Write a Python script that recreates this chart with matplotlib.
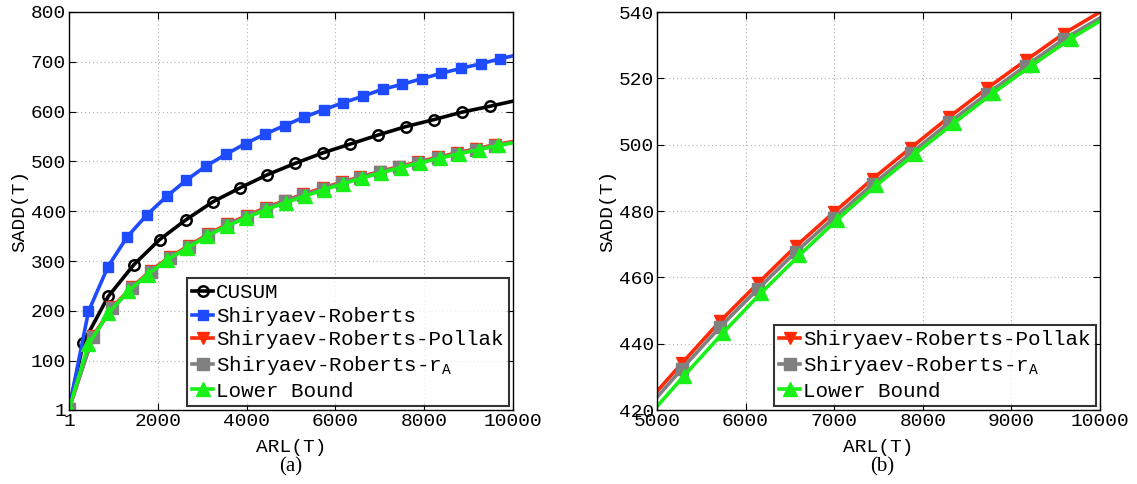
import matplotlib
matplotlib.use("Agg")
import matplotlib.pyplot as plt

# ---------------- data ----------------
cusum_x = [1, 322, 885, 1464, 2040, 2637, 3242, 3855, 4460, 5089, 5710, 6339,
           6960, 7589, 8218, 8855, 9492, 10000]
cusum_y = [3, 136, 229, 293, 343, 383, 419, 447, 473, 496, 517, 535,
           553, 570, 584, 599, 611, 621]

sr_x = [1, 440, 880, 1315, 1758, 2202, 2637, 3089, 3532, 3976, 4419, 4855,
        5298, 5742, 6177, 6621, 7065, 7508, 7944, 8387, 8831, 9274, 9702, 10000]
sr_y = [3, 199, 289, 349, 393, 430, 462, 491, 514, 536, 555, 572,
        589, 604, 618, 631, 645, 655, 666, 677, 687, 696, 706, 712]

srp_x = [1, 540, 975, 1410, 1845, 2270, 2700, 3135, 3570, 4000, 4430, 4860,
         5281, 5710, 6143, 6564, 7001, 7434, 7867, 8300, 8729, 9162, 9591, 10000]
srp_y = [3, 150, 207, 247, 281, 308, 331, 354, 374, 391, 407, 421.4,
         434.1, 446.7, 458.3, 469.3, 479.7, 489.7, 499.1, 508.4, 517.1, 525.4, 533.5, 540.0]

srr_x = [1, 540, 975, 1410, 1845, 2270, 2700, 3135, 3570, 4000, 4430, 4860,
         5281, 5710, 6143, 6564, 7001, 7434, 7867, 8300, 8729, 9162, 9591, 10000]
srr_y = [3, 148, 205, 245, 279, 306, 329, 352, 372, 389, 405, 419.6,
         432.4, 445.0, 456.6, 467.6, 478.0, 488.0, 497.4, 506.7, 515.4, 523.7, 531.8, 538.2]

lb_x = [1, 440, 887, 1330, 1774, 2218, 2661, 3105, 3548, 3992, 4435, 4879,
        5309, 5742, 6175, 6604, 7033, 7474, 7915, 8356, 8789, 9230, 9671, 10000]
lb_y = [3, 133, 195, 239, 273, 303, 326, 350, 370, 387, 403, 417.4,
        430.4, 443.2, 455.3, 466.6, 477.4, 487.7, 497.3, 506.6, 515.5, 523.9, 532.0, 537.3]

labels = ["CUSUM", "Shiryaev-Roberts", "Shiryaev-Roberts-Pollak",
          r"Shiryaev-Roberts-r$_{\mathregular{A}}$", "Lower Bound"]

left_xticks = [1, 2000, 4000, 6000, 8000, 10000]
left_yticks = [1, 100, 200, 300, 400, 500, 600, 700, 800]
right_xticks = [5000, 6000, 7000, 8000, 9000, 10000]
right_yticks = [420, 440, 460, 480, 500, 520, 540]

# ---------------- style ----------------
MONO = "Liberation Mono"
SERIF = "Liberation Serif"
plt.rcParams["font.family"] = MONO
plt.rcParams["mathtext.fontset"] = "custom"
plt.rcParams["mathtext.rm"] = MONO

C_BLACK = "#000000"
C_BLUE = "#1f4bff"
C_RED = "#ff2a0a"
C_GRAY = "#808080"
C_GREEN = "#18f018"

fig = plt.figure(figsize=(11.37, 4.84), dpi=100)
ax1 = fig.add_axes([69 / 1137, 74 / 484, 444 / 1137, 398 / 484])
ax2 = fig.add_axes([657 / 1137, 74 / 484, 443 / 1137, 398 / 484])

lw = 2.6
me = slice(0, -1)


def draw(ax, series):
    for (x, y, color, marker, ms, mfc, mew, lab) in series:
        ax.plot(x, y, color=color, lw=lw, marker=marker, ms=ms, mfc=mfc,
                mec=color, mew=mew, markevery=me, label=lab)


series_all = [
    (cusum_x, cusum_y, C_BLACK, "o", 7.5, "none", 1.8, labels[0]),
    (sr_x, sr_y, C_BLUE, "s", 7, C_BLUE, 1.0, labels[1]),
    (srp_x, srp_y, C_RED, "v", 9, C_RED, 1.0, labels[2]),
    (srr_x, srr_y, C_GRAY, "s", 8, C_GRAY, 1.0, labels[3]),
    (lb_x, lb_y, C_GREEN, "^", 10, C_GREEN, 1.0, labels[4]),
]
draw(ax1, series_all)
draw(ax2, series_all[2:])

ax1.set_xlim(1, 10000)
ax1.set_ylim(1, 800)
ax1.set_xticks(left_xticks)
ax1.set_yticks(left_yticks)
ax2.set_xlim(5000, 10000)
ax2.set_ylim(420, 540)
ax2.set_xticks(right_xticks)
ax2.set_yticks(right_yticks)

for ax in (ax1, ax2):
    ax.grid(True, linestyle=(0, (1, 2.5)), color="#b0b0b0", lw=0.8)
    ax.tick_params(direction="in", top=True, right=True, length=5, width=0.8,
                   labelsize=14, pad=2)
    for sp in ax.spines.values():
        sp.set_linewidth(1.0)
    ax.set_xlabel("ARL(T)", fontsize=14, labelpad=7)
    ax.set_ylabel("SADD(T)", fontsize=14, labelpad=2)

leg_kw = dict(prop={"family": MONO, "size": 15}, frameon=True, fancybox=False,
              edgecolor="black", handlelength=1.0, handletextpad=0.15,
              borderpad=0.25, labelspacing=0.22, borderaxespad=0.2)
l1 = ax1.legend(loc="lower right", **leg_kw)
l2 = ax2.legend(loc="lower right", **leg_kw)
for l in (l1, l2):
    l.get_frame().set_linewidth(1.5)

fig.text(291 / 1137, 1 - 467 / 484, "(a)", ha="center", va="center",
         fontsize=15, family=SERIF)
fig.text(882 / 1137, 1 - 467 / 484, "(b)", ha="center", va="center",
         fontsize=15, family=SERIF)

fig.savefig("out.png", dpi=100)
